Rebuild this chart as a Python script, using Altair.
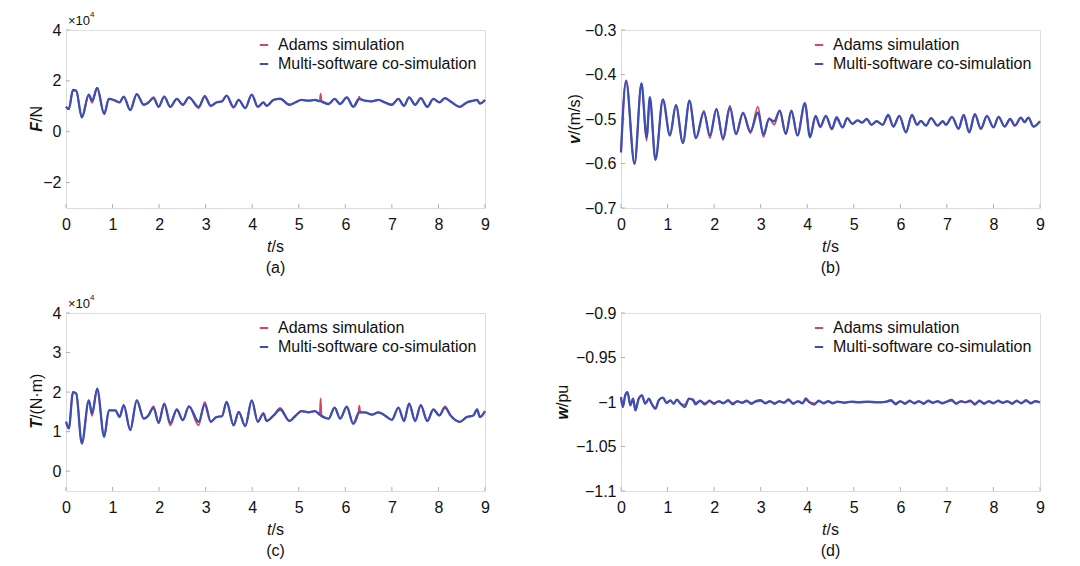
import altair as alt
import pandas as pd

FONT = "Liberation Sans"
RED = "#d4475f"
BLUE = "#3c4fb4"
GRAY = "#b0b0b0"
SERIES = ["Adams simulation", "Multi-software co-simulation"]
W, H = 419, 178

# ---------------- data ----------------
t_fc = [0.0, 0.06, 0.15, 0.22, 0.34, 0.49, 0.56, 0.67,
        0.82, 0.92, 1.06, 1.15, 1.24, 1.38, 1.52, 1.67,
        1.77, 1.88, 1.99, 2.11, 2.24, 2.38, 2.51, 2.64,
        2.85, 2.98, 3.11, 3.23, 3.35, 3.45, 3.6, 3.71,
        3.85, 3.99, 4.12, 4.24, 4.31, 4.46, 4.6, 4.8,
        4.92, 5.06, 5.21, 5.35, 5.45, 5.47, 5.49, 5.64,
        5.77, 5.89, 6.03, 6.17, 6.28, 6.3, 6.32, 6.42,
        6.57, 6.71, 6.85, 7.0, 7.14, 7.26, 7.37, 7.5,
        7.62, 7.76, 7.89, 8.02, 8.14, 8.26, 8.46, 8.61,
        8.75, 8.83, 8.89, 9.0]

# F in units of 1e4 N
F_multi = [0.98, 0.89, 1.64, 1.61, 0.56, 1.46, 1.22, 1.72,
           0.70, 1.29, 1.22, 1.15, 1.38, 0.85, 1.48, 1.06,
           1.15, 1.32, 0.98, 1.38, 0.98, 1.29, 1.06, 1.35,
           0.98, 1.38, 1.02, 1.15, 1.19, 1.42, 0.96, 1.25,
           0.93, 1.46, 0.98, 1.15, 1.02, 1.25, 1.29, 1.06,
           1.15, 1.25, 1.22, 1.25, 1.20, 1.20, 1.19, 1.09,
           1.29, 1.09, 1.35, 0.98, 1.27, 1.28, 1.28, 1.22,
           1.19, 1.25, 1.15, 1.06, 1.29, 1.02, 1.35, 1.06,
           1.32, 0.98, 1.29, 1.15, 1.32, 1.19, 0.98, 1.15,
           1.22, 1.25, 1.11, 1.25]
F_adams = [0.98, 0.89, 1.64, 1.61, 0.56, 1.46, 1.14, 1.72,
           0.70, 1.29, 1.22, 1.15, 1.38, 0.85, 1.48, 1.06,
           1.15, 1.36, 0.98, 1.38, 0.98, 1.29, 1.06, 1.35,
           0.93, 1.42, 1.02, 1.15, 1.19, 1.42, 0.96, 1.25,
           0.93, 1.46, 0.98, 1.15, 1.02, 1.25, 1.31, 1.06,
           1.15, 1.25, 1.22, 1.25, 1.20, 1.50, 1.17, 1.09,
           1.29, 1.09, 1.35, 0.98, 1.27, 1.38, 1.28, 1.22,
           1.19, 1.25, 1.15, 1.06, 1.29, 1.02, 1.35, 1.06,
           1.32, 0.98, 1.29, 1.15, 1.32, 1.19, 0.98, 1.15,
           1.22, 1.25, 1.11, 1.25]

# T in units of 1e4 N*m
T_multi = [1.25, 1.08, 2.00, 1.96, 0.70, 1.79, 1.46, 2.09,
           0.87, 1.54, 1.54, 1.37, 1.67, 1.04, 1.79, 1.33,
           1.41, 1.61, 1.22, 1.71, 1.22, 1.56, 1.29, 1.64,
           1.25, 1.69, 1.25, 1.37, 1.39, 1.75, 1.16, 1.50,
           1.14, 1.79, 1.25, 1.46, 1.27, 1.41, 1.56, 1.27,
           1.39, 1.52, 1.49, 1.52, 1.43, 1.41, 1.40, 1.33,
           1.61, 1.33, 1.63, 1.20, 1.47, 1.49, 1.49, 1.49,
           1.43, 1.49, 1.41, 1.30, 1.61, 1.27, 1.71, 1.27,
           1.67, 1.27, 1.56, 1.41, 1.61, 1.41, 1.25, 1.37,
           1.41, 1.56, 1.37, 1.52]
T_adams = [1.25, 1.08, 2.00, 1.96, 0.70, 1.79, 1.40, 2.09,
           0.87, 1.54, 1.54, 1.37, 1.67, 1.04, 1.79, 1.33,
           1.41, 1.64, 1.22, 1.71, 1.16, 1.56, 1.29, 1.64,
           1.16, 1.75, 1.25, 1.37, 1.39, 1.75, 1.16, 1.50,
           1.14, 1.79, 1.25, 1.46, 1.27, 1.41, 1.60, 1.27,
           1.39, 1.52, 1.49, 1.52, 1.43, 1.84, 1.38, 1.33,
           1.61, 1.33, 1.63, 1.20, 1.47, 1.66, 1.49, 1.49,
           1.43, 1.49, 1.41, 1.30, 1.61, 1.27, 1.71, 1.27,
           1.67, 1.27, 1.56, 1.41, 1.64, 1.41, 1.25, 1.37,
           1.41, 1.56, 1.37, 1.52]

t_v = [0.0, 0.11, 0.29, 0.44, 0.55, 0.62, 0.74, 0.9,
       1.05, 1.18, 1.33, 1.47, 1.61, 1.78, 1.91, 2.05,
       2.19, 2.34, 2.47, 2.62, 2.78, 2.94, 3.06, 3.18,
       3.29, 3.41, 3.54, 3.66, 3.79, 3.95, 4.06, 4.18,
       4.28, 4.4, 4.53, 4.63, 4.76, 4.86, 4.97, 5.08,
       5.18, 5.28, 5.38, 5.49, 5.62, 5.74, 5.85, 5.98,
       6.12, 6.25, 6.36, 6.44, 6.55, 6.66, 6.8, 6.91,
       6.98, 7.11, 7.25, 7.36, 7.48, 7.6, 7.73, 7.86,
       8.0, 8.11, 8.24, 8.36, 8.46, 8.59, 8.67, 8.75,
       8.86, 9.0]
v_multi = [-0.575, -0.414, -0.601, -0.420, -0.541, -0.451, -0.592, -0.456,
           -0.537, -0.469, -0.554, -0.459, -0.543, -0.485, -0.537, -0.478,
           -0.543, -0.475, -0.534, -0.487, -0.528, -0.485, -0.535, -0.500,
           -0.505, -0.481, -0.534, -0.481, -0.537, -0.465, -0.541, -0.493,
           -0.517, -0.493, -0.522, -0.496, -0.519, -0.498, -0.511, -0.503,
           -0.508, -0.500, -0.513, -0.505, -0.513, -0.491, -0.517, -0.493,
           -0.530, -0.491, -0.513, -0.504, -0.515, -0.498, -0.515, -0.505,
           -0.513, -0.495, -0.522, -0.491, -0.530, -0.489, -0.522, -0.493,
           -0.519, -0.495, -0.517, -0.500, -0.515, -0.497, -0.507, -0.497,
           -0.517, -0.505]
v_adams = [-0.575, -0.414, -0.601, -0.420, -0.549, -0.451, -0.592, -0.456,
           -0.537, -0.469, -0.554, -0.459, -0.543, -0.481, -0.543, -0.477,
           -0.547, -0.470, -0.534, -0.485, -0.532, -0.472, -0.540, -0.498,
           -0.513, -0.481, -0.534, -0.481, -0.537, -0.463, -0.541, -0.493,
           -0.519, -0.493, -0.524, -0.500, -0.519, -0.498, -0.511, -0.503,
           -0.508, -0.500, -0.513, -0.505, -0.513, -0.491, -0.517, -0.493,
           -0.530, -0.491, -0.513, -0.504, -0.515, -0.498, -0.515, -0.505,
           -0.513, -0.495, -0.522, -0.491, -0.530, -0.489, -0.522, -0.493,
           -0.519, -0.495, -0.517, -0.500, -0.515, -0.497, -0.507, -0.497,
           -0.517, -0.505]

t_w = [0.0, 0.04, 0.09, 0.14, 0.2, 0.26, 0.31, 0.38,
       0.45, 0.52, 0.6, 0.65, 0.74, 0.81, 0.9, 0.98,
       1.06, 1.13, 1.2, 1.28, 1.37, 1.46, 1.55, 1.6,
       1.7, 1.8, 1.9, 2.0, 2.1, 2.2, 2.3, 2.4,
       2.5, 2.6, 2.7, 2.8, 2.9, 3.0, 3.1, 3.2,
       3.3, 3.4, 3.5, 3.6, 3.7, 3.8, 3.9, 3.97,
       4.05, 4.15, 4.25, 4.35, 4.45, 4.55, 4.65, 4.8,
       4.95, 5.1, 5.3, 5.5, 5.7, 5.8, 5.9, 6.0,
       6.1, 6.2, 6.3, 6.4, 6.5, 6.6, 6.7, 6.8,
       6.9, 7.0, 7.1, 7.2, 7.3, 7.4, 7.5, 7.6,
       7.7, 7.8, 7.9, 8.0, 8.1, 8.2, 8.3, 8.4,
       8.5, 8.6, 8.7, 8.8, 8.9, 9.0]
w_multi = [-0.9944, -1.0056, -0.9925, -0.9888, -1.0037, -0.9963, -1.0094, -0.9963,
           -0.9925, -1.0019, -0.9963, -1.0011, -1.0075, -0.9981, -0.9951, -1.0011,
           -0.9981, -1.0019, -0.9974, -1.0019, -1.0056, -0.9963, -0.9981, -1.0026,
           -0.9985, -1.0025, -0.9985, -1.0020, -0.9990, -1.0015, -0.9980, -1.0025,
           -0.9990, -1.0010, -0.9985, -1.0020, -0.9990, -0.9980, -1.0015, -0.9990,
           -1.0020, -0.9990, -1.0010, -0.9970, -1.0020, -0.9990, -1.0015, -0.9960,
           -1.0005, -1.0030, -0.9985, -1.0015, -0.9990, -1.0015, -0.9995, -1.0010,
           -0.9995, -1.0005, -0.9995, -1.0005, -0.9995, -0.9980, -1.0025, -0.9990,
           -1.0020, -0.9985, -1.0015, -0.9990, -1.0020, -0.9985, -1.0010, -0.9990,
           -1.0015, -0.9995, -0.9975, -1.0020, -0.9990, -1.0005, -0.9985, -1.0030,
           -0.9985, -1.0020, -0.9990, -1.0015, -0.9985, -1.0010, -0.9990, -1.0020,
           -0.9985, -1.0015, -0.9980, -1.0015, -0.9990, -1.0005]
w_adams = [-0.9944, -1.0056, -0.9925, -0.9888, -1.0037, -0.9963, -1.0094, -0.9963,
           -0.9925, -1.0019, -0.9963, -1.0011, -1.0075, -0.9981, -0.9951, -1.0011,
           -0.9981, -1.0019, -0.9974, -1.0019, -1.0030, -0.9965, -0.9968, -1.0010,
           -0.9993, -1.0012, -0.9993, -1.0010, -0.9995, -1.0008, -0.9990, -1.0012,
           -0.9995, -1.0005, -0.9993, -1.0010, -0.9995, -0.9990, -1.0008, -0.9995,
           -1.0010, -0.9995, -1.0005, -0.9985, -1.0010, -0.9995, -1.0008, -0.9980,
           -1.0002, -1.0015, -0.9993, -1.0008, -0.9995, -1.0008, -0.9998, -1.0005,
           -0.9998, -1.0002, -0.9998, -1.0002, -0.9998, -0.9990, -1.0012, -0.9995,
           -1.0010, -0.9993, -1.0008, -0.9995, -1.0010, -0.9993, -1.0005, -0.9995,
           -1.0008, -0.9998, -0.9988, -1.0010, -0.9995, -1.0002, -0.9993, -1.0015,
           -0.9993, -1.0010, -0.9995, -1.0008, -0.9993, -1.0005, -0.9995, -1.0010,
           -0.9993, -1.0008, -0.9990, -1.0008, -0.9995, -1.0002]

x_ticks = [0, 1, 2, 3, 4, 5, 6, 7, 8, 9]
F_ticks = [-2, 0, 2, 4]
v_ticks = [-0.7, -0.6, -0.5, -0.4, -0.3]
T_ticks = [0, 1, 2, 3, 4]
w_ticks = [-1.1, -1.05, -1.0, -0.95, -0.9]

ONE = pd.DataFrame({"k": [0]})


def txt(text, x, y, size=16, angle=0, align="center", weight="normal", style="normal"):
    return alt.Chart(ONE).mark_text(
        text=text, font=FONT, fontSize=size, angle=angle, align=align,
        baseline="middle", fontWeight=weight, fontStyle=style, color="#111"
    ).encode(x=alt.value(x), y=alt.value(y))


def panel(t, adams, multi, ydom, yticks, sym, unit, ty_x, ty_split, caption, exp=False):
    df = pd.DataFrame({
        "t": list(t) + list(t),
        "v": list(adams) + list(multi),
        "s": [SERIES[0]] * len(t) + [SERIES[1]] * len(t),
    })
    x = alt.X("t:Q", scale=alt.Scale(domain=[0, 9], nice=False),
              axis=alt.Axis(values=x_ticks, title=None, ticks=False, domain=False, grid=False,
                            labelPadding=8, labelFontSize=16, labelFont=FONT, labelColor="#111",
                            labelFlush=False, labelOverlap=False))
    y = alt.Y("v:Q", scale=alt.Scale(domain=ydom, nice=False, zero=False),
              axis=alt.Axis(values=yticks, format="~g", title=None, ticks=False, domain=False,
                            grid=False, labelPadding=5, labelFontSize=16, labelFont=FONT,
                            labelColor="#111", labelOverlap=False))
    color = alt.Color("s:N", scale=alt.Scale(domain=SERIES, range=[RED, BLUE]),
                      legend=alt.Legend(title=None, orient="none", legendX=190, legendY=7,
                                        symbolType="stroke", symbolSize=70, symbolStrokeWidth=2,
                                        labelFont=FONT, labelFontSize=16, labelColor="#111",
                                        labelOffset=6, rowPadding=3, labelLimit=0))
    base = alt.Chart(df)
    red = base.transform_filter(alt.datum.s == SERIES[0]).mark_line(
        strokeWidth=1.8, interpolate="monotone").encode(x=x, y=y, color=color)
    blue = base.transform_filter(alt.datum.s == SERIES[1]).mark_line(
        strokeWidth=2.3, interpolate="monotone").encode(x=x, y=y, color=color)
    xt = alt.Chart(pd.DataFrame({"t": x_ticks})).mark_rule(color=GRAY, strokeWidth=1).encode(
        x=x, y=alt.value(H), y2=alt.value(H - 4))
    yt = alt.Chart(pd.DataFrame({"v": yticks})).mark_rule(color=GRAY, strokeWidth=1).encode(
        y=y, x=alt.value(0), x2=alt.value(4))
    layers = [xt, yt, red, blue,
              txt(sym, ty_x, ty_split, angle=270, align="right", weight="bold", style="italic"),
              txt(unit, ty_x, ty_split, angle=270, align="left"),
              txt("t", 205.5, H + 39, align="right", style="italic"),
              txt("/s", 205.5, H + 39, align="left"),
              txt(caption, W / 2, H + 60)]
    if exp:
        layers += [txt("\u00d710", 2, -9, size=13, align="left"),
                   txt("4", 24, -15, size=8, align="left")]
    return alt.layer(*layers).properties(width=W, height=H)


pa = panel(t_fc, F_adams, F_multi, [-3, 4], F_ticks, "F", "/N", -29, 92, "(a)", exp=True)
pb = panel(t_v, v_adams, v_multi, [-0.7, -0.3], v_ticks, "v", "/(m/s)", -46, 105, "(b)")
pc = panel(t_fc, T_adams, T_multi, [-0.5, 4], T_ticks, "T", "/(N\u00b7m)", -29, 106, "(c)", exp=True)
pd_ = panel(t_w, w_adams, w_multi, [-1.1, -0.9], w_ticks, "w", "/pu", -58, 94, "(d)")

chart = alt.concat(pa, pb, pc, pd_, columns=2, spacing={"row": 105, "column": 136},
                   bounds="flush").resolve_legend(color="independent").properties(
    padding={"left": 20, "top": 2, "right": 5, "bottom": 5}
).configure_view(stroke=GRAY, strokeWidth=1).configure(background="white")

chart.save("out.html", embed_options={"renderer": "svg", "actions": False})
